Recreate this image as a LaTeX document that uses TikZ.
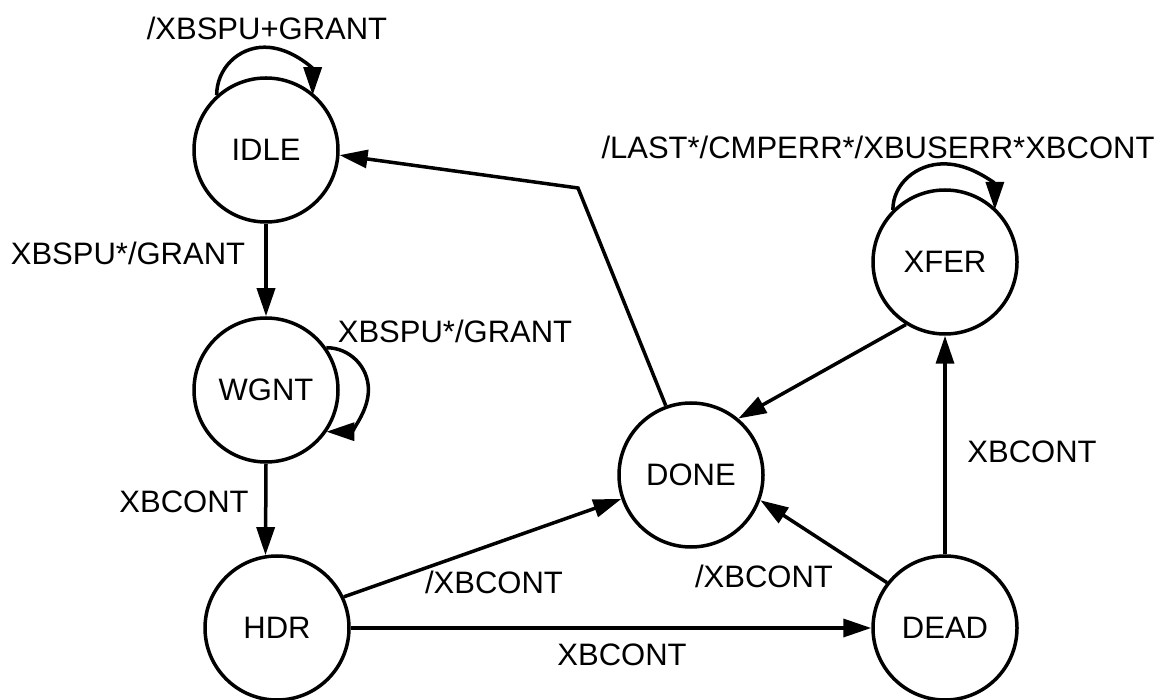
\documentclass[tikz,border=0pt]{standalone}
\usepackage{fontspec}
\setmainfont{Liberation Sans}
\usetikzlibrary{arrows.meta}
\begin{document}
\begin{tikzpicture}[x=1pt,y=1pt,
  state/.style={circle,draw,line width=3.5pt,minimum size=144pt,inner sep=0pt,font=\fontsize{31}{31}\selectfont},
  lbl/.style={inner sep=0pt,anchor=base,font=\fontsize{31}{31}\selectfont},
  tr/.style={line width=3.5pt,-{Triangle[length=28pt,width=18pt]}},
]
\useasboundingbox (0,0) rectangle (1172,699);
\node[state] (IDLE) at (266,549) {IDLE};
\node[state] (WGNT) at (266,309) {WGNT};
\node[state] (HDR) at (277,71) {HDR};
\node[state] (DONE) at (691,224) {DONE};
\node[state] (XFER) at (945,437) {XFER};
\node[state] (DEAD) at (945,71) {DEAD};

\draw[tr] (IDLE.132) arc[start angle=180,end angle=0,radius=48];
\draw[tr] (WGNT.35) arc[start angle=90,end angle=-90,radius=42];
\draw[tr] (XFER.135) arc[start angle=180,end angle=0,x radius=51,y radius=46];
\draw[tr] (IDLE) -- (WGNT);
\draw[tr] (WGNT.south) -- (HDR.99);
\draw[tr] (HDR.25) -- (DONE.199);
\draw[tr] (HDR) -- (DEAD);
\draw[tr] (DEAD.142) -- (DONE.-20);
\draw[tr] (DEAD) -- (XFER);
\draw[tr] (XFER.238) -- (DONE.50);
\coordinate (bend) at (578,511);
\draw[tr] (DONE.110) -- (bend) -- (IDLE.-4);

\node[lbl] (l1) at (267,659) {/XBSPU+GRANT};
\node[lbl] (l2) at (128,434) {XBSPU*/GRANT};
\node[lbl] (l3) at (455,356) {XBSPU*/GRANT};
\node[lbl] (l4) at (184,186) {XBCONT};
\node[lbl] (l5) at (494,106) {/XBCONT};
\node[lbl] (l6) at (622,34) {XBCONT};
\node[lbl] (l7) at (764,112) {/XBCONT};
\node[lbl] (l8) at (1032,236) {XBCONT};
\node[lbl] (l9) at (878,540) {/LAST*/CMPERR*/XBUSERR*XBCONT};
\end{tikzpicture}
\end{document}
